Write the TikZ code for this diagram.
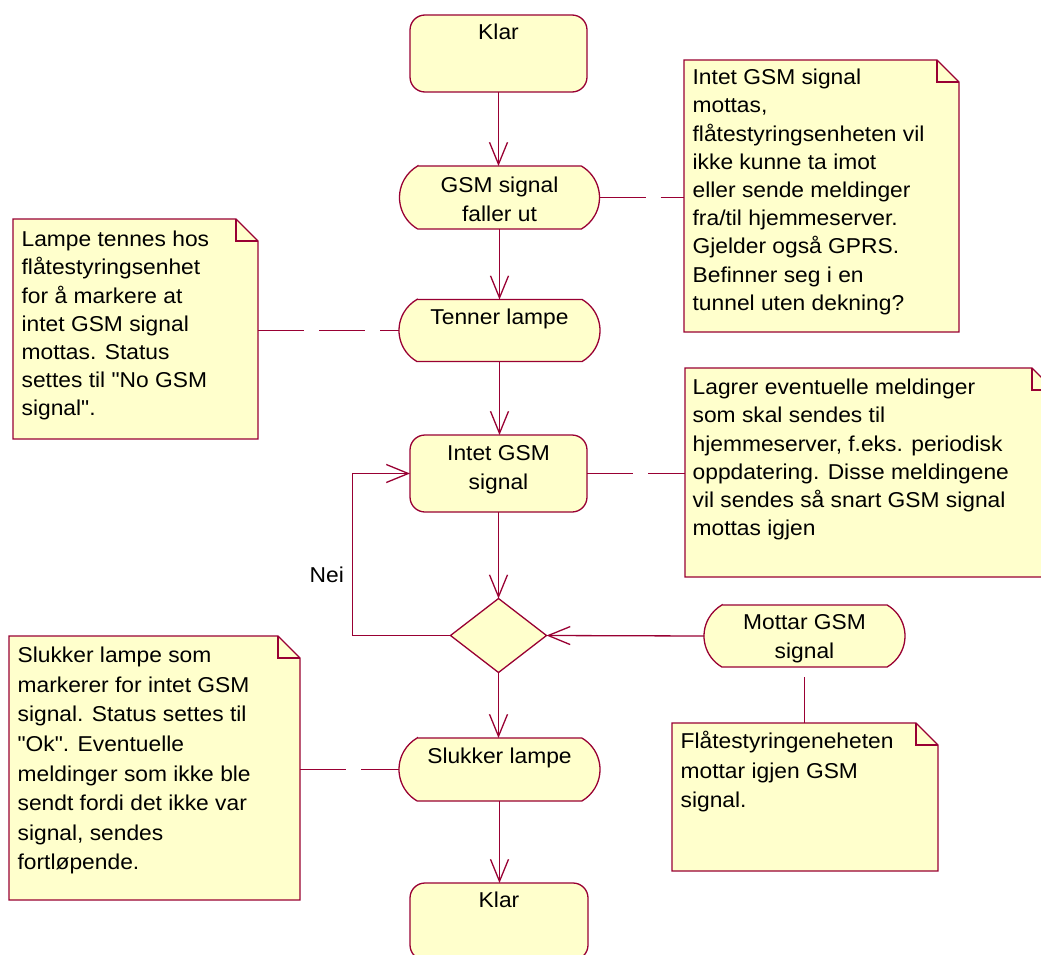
\documentclass[tikz,border=0pt]{standalone}
\usepackage{fontspec}
\setmainfont{Liberation Sans}[FakeStretch=1.06,Ligatures=TeXOff]
\usetikzlibrary{arrows.meta,shapes.geometric}

\definecolor{roseline}{RGB}{153,0,51}
\definecolor{rosefill}{RGB}{255,255,204}

% fixed height for the first line of every text block
\newcommand{\fs}{\rule{0pt}{18pt}}

% activity state outline: flat top and bottom, 120 degree arcs at the sides
\newcommand{\actframe}[2]{%
  \path[frame] ([xshift=#2*0.5pt]#1.north west) -- ([xshift=-#2*0.5pt]#1.north east)
    arc[start angle=60,end angle=-60,radius=#2pt]
    -- ([xshift=#2*0.5pt]#1.south west)
    arc[start angle=240,end angle=120,radius=#2pt] -- cycle;}

% note outline with a folded top right corner
\newcommand{\noteframe}[1]{%
  \path[frame] (#1.north west) -- ([xshift=-22pt]#1.north east)
    -- ([yshift=-22pt]#1.north east) -- (#1.south east) -- (#1.south west) -- cycle;
  \draw[roseline] ([xshift=-22pt]#1.north east) |- ([yshift=-22pt]#1.north east);}

\begin{document}
\begin{tikzpicture}[x=1pt,y=-1pt,line width=1.3pt,
  place/.style={rectangle,draw=none,inner sep=0pt,outer sep=0pt},
  notebox/.style={place,anchor=north west},
  roundstate/.style={rectangle,draw=roseline,fill=rosefill,rounded corners=15pt,
    inner sep=0pt,outer sep=0pt},
  choice/.style={diamond,draw=roseline,fill=rosefill,inner sep=0pt,outer sep=0pt,
    minimum width=96pt,minimum height=74pt},
  frame/.style={draw=roseline,fill=rosefill},
  statetext/.style={anchor=north,inner sep=0pt,align=center,
    font=\fontsize{21.5}{29}\selectfont},
  notetext/.style={anchor=north west,inner sep=0pt,align=left,
    font=\fontsize{21.5}{28.2}\selectfont},
  notetextwide/.style={notetext,font=\fontsize{21.5}{29.6}\selectfont},
  flow/.style={draw=roseline,-{Straight Barb[length=22pt,width=18pt]}},
  attach/.style={draw=roseline,dash pattern=on 46pt off 15pt},
]
\useasboundingbox (0,0) rectangle (1041,955);
\fill[white] (0,0) rectangle (1041,955);

% --- states ---
\node[roundstate,minimum width=177pt,minimum height=77pt] (klar1) at (498.5,53.5) {};
\node[place,minimum width=200pt,minimum height=63pt] (gsm) at (499.5,197.5) {};
\node[place,minimum width=201pt,minimum height=62pt] (tenn) at (499.5,330.5) {};
\node[roundstate,minimum width=177pt,minimum height=77pt] (intet) at (498.5,473.5) {};
\node[choice] (dia) at (498.5,635.5) {};
\node[place,minimum width=201pt,minimum height=62pt] (mottar) at (804.5,636) {};
\node[place,minimum width=201pt,minimum height=63pt] (sluk) at (499.5,769.5) {};
\node[roundstate,minimum width=178pt,minimum height=77pt] (klar2) at (499,921.5) {};

\actframe{gsm}{36.4}
\actframe{tenn}{35.8}
\actframe{mottar}{35.8}
\actframe{sluk}{36.4}

% --- notes ---
\node[notebox,minimum width=275pt,minimum height=272pt] (n1) at (684,60) {};
\node[notebox,minimum width=245pt,minimum height=220pt] (n2) at (13,219) {};
\node[notebox,minimum width=369pt,minimum height=209pt] (n3) at (685,368) {};
\node[notebox,minimum width=266pt,minimum height=148pt] (n4) at (672,723) {};
\node[notebox,minimum width=291pt,minimum height=264pt] (n5) at (9,636) {};

\noteframe{n1}
\noteframe{n2}
\noteframe{n3}
\noteframe{n4}
\noteframe{n5}

% --- state labels ---
\node[statetext] (klar1t) at ([yshift=-6pt]klar1.north) {\fs Klar};
\node[statetext] (gsmt) at ([yshift=-8pt]gsm.north) {\fs GSM signal\\faller ut};
\node[statetext] (tennt) at ([yshift=-6pt]tenn.north) {\fs Tenner lampe};
\node[statetext] (intett) at ([yshift=-7pt]intet.north) {\fs Intet GSM\\signal};
\node[statetext] (mottart) at ([yshift=-6pt]mottar.north) {\fs Mottar GSM\\signal};
\node[statetext] (slukt) at ([yshift=-7pt]sluk.north) {\fs Slukker lampe};
\node[statetext] (klar2t) at ([yshift=-6pt]klar2.north) {\fs Klar};

% --- note texts ---
\node[notetext] (n1t) at (692,66) {\fs Intet GSM signal\\mottas,\\flåtestyringsenheten vil\\ikke kunne ta imot\\eller sende meldinger\\fra/til hjemmeserver.\\Gjelder også GPRS.\\Befinner seg i en\\tunnel uten dekning?};
\node[notetext] (n2t) at (21,228) {\fs Lampe tennes hos\\flåtestyringsenhet\\for å markere at\\intet GSM signal\\mottas. Status\\settes til "No GSM\\signal".};
\node[notetext] (n3t) at (692,376) {\fs Lagrer eventuelle meldinger\\som skal sendes til\\hjemmeserver, f.eks. periodisk\\oppdatering. Disse meldingene\\vil sendes så snart GSM signal\\mottas igjen};
\node[notetextwide] (n4t) at (680,730) {\fs Flåtestyringeneheten\\mottar igjen GSM\\signal.};
\node[notetextwide] (n5t) at (17,644) {\fs Slukker lampe som\\markerer for intet GSM\\signal. Status settes til\\"Ok". Eventuelle\\meldinger som ikke ble\\sendt fordi det ikke var\\signal, sendes\\fortløpende.};

% --- guard label ---
\node[anchor=base west,inner sep=0pt,font=\fontsize{21.5}{29}\selectfont] (nei) at (309,582) {Nei};

% --- transitions ---
\draw[flow] (klar1.south) -- (klar1.south |- gsm.north);
\draw[flow] (gsm.south) -- (gsm.south |- tenn.north);
\draw[flow] (tenn.south) -- (tenn.south |- intet.north);
\draw[flow] (intet.south) -- (intet.south |- dia.north);
\draw[flow] (dia.south) -- (dia.south |- sluk.north);
\draw[flow] (sluk.south) -- (sluk.south |- klar2.north);
\draw[flow] (dia.west) -- ++(-98,0) |- (intet.west);
\draw[flow] (mottar.west) -- (dia.east);

% --- note attachments ---
\draw[attach] (gsm.east) -- (gsm.east -| n1.west);
\draw[attach] (tenn.west -| n2.east) -- (tenn.west);
\draw[attach] (intet.east) -- (intet.east -| n3.west);
\draw[attach] (sluk.west -| n5.east) -- (sluk.west);
\draw[attach] (mottar.south |- n4.north) -- (mottar.south);
\end{tikzpicture}
\end{document}
